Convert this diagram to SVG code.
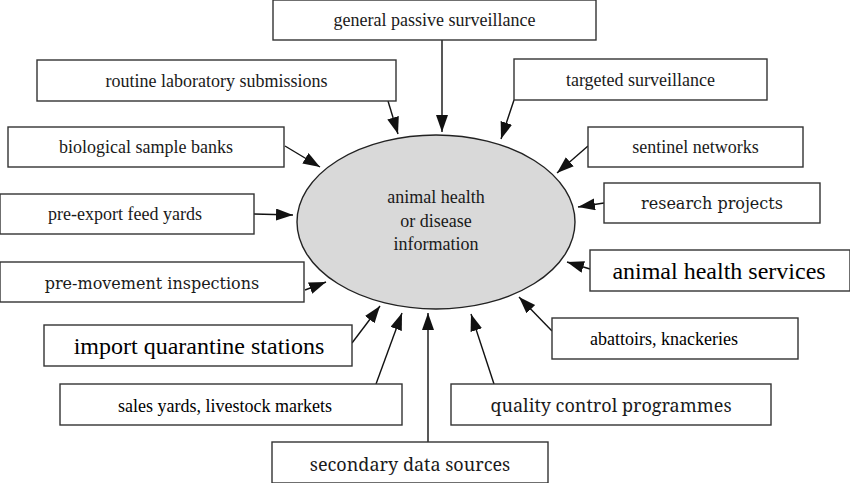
<svg xmlns="http://www.w3.org/2000/svg" width="850" height="483" viewBox="0 0 850 483">
<style>
.box{fill:#fff;stroke:#333;stroke-width:1.4}
.edge{stroke:#111;stroke-width:1.4;fill:none}
</style>
<defs>
<marker id="ah" markerUnits="userSpaceOnUse" markerWidth="18" markerHeight="13" refX="17" refY="6" orient="auto">
<path d="M0,0 L17,6 L0,12 z" fill="#111"/>
</marker>
</defs>
<rect width="850" height="483" fill="#fff"/>
<g id="connectors">
<line class="edge" x1="442" y1="40" x2="442" y2="132" marker-end="url(#ah)"/>
<line class="edge" x1="388" y1="101" x2="398" y2="134" marker-end="url(#ah)"/>
<line class="edge" x1="514" y1="100" x2="501" y2="139" marker-end="url(#ah)"/>
<line class="edge" x1="285" y1="146" x2="320" y2="167" marker-end="url(#ah)"/>
<line class="edge" x1="588" y1="146" x2="557" y2="173" marker-end="url(#ah)"/>
<line class="edge" x1="254" y1="214" x2="293" y2="215" marker-end="url(#ah)"/>
<line class="edge" x1="604" y1="203" x2="578" y2="207" marker-end="url(#ah)"/>
<line class="edge" x1="305" y1="290" x2="326" y2="282" marker-end="url(#ah)"/>
<line class="edge" x1="590" y1="269" x2="567" y2="262" marker-end="url(#ah)"/>
<line class="edge" x1="352" y1="343" x2="380" y2="306" marker-end="url(#ah)"/>
<line class="edge" x1="552" y1="331" x2="519" y2="297" marker-end="url(#ah)"/>
<line class="edge" x1="376" y1="384" x2="402" y2="313" marker-end="url(#ah)"/>
<line class="edge" x1="494" y1="384" x2="471" y2="314" marker-end="url(#ah)"/>
<line class="edge" x1="428" y1="442" x2="428" y2="313" marker-end="url(#ah)"/>
</g>
<g id="center">
<ellipse cx="436" cy="222" rx="139" ry="87" fill="#d9d9d9" stroke="#222" stroke-width="1.4"/>
<text x="436" y="203" text-anchor="middle" font-size="18px" fill="#1a1a1a" font-family="Liberation Serif">animal health</text>
<text x="436" y="227" text-anchor="middle" font-size="18px" fill="#1a1a1a" font-family="Liberation Serif">or disease</text>
<text x="436" y="250" text-anchor="middle" font-size="18px" fill="#1a1a1a" font-family="Liberation Serif">information</text>
</g>
<g id="n1"><rect class="box" x="273" y="0" width="323" height="40"/><text x="434.5" y="26" text-anchor="middle" font-size="18px" fill="#1a1a1a" font-family="Liberation Serif">general passive surveillance</text></g>
<g id="n2"><rect class="box" x="37" y="60" width="359" height="41"/><text x="216.5" y="87" text-anchor="middle" font-size="18px" fill="#1a1a1a" font-family="Liberation Serif">routine laboratory submissions</text></g>
<g id="n3"><rect class="box" x="514" y="59" width="253" height="41"/><text x="640.5" y="86" text-anchor="middle" font-size="18" fill="#1a1a1a" font-family="Times New Roman">targeted surveillance</text></g>
<g id="n4"><rect class="box" x="8" y="127" width="276" height="40"/><text x="146" y="153" text-anchor="middle" font-size="18" fill="#1a1a1a" font-family="Times New Roman">biological sample banks</text></g>
<g id="n5"><rect class="box" x="588" y="127" width="215" height="40"/><text x="695.5" y="153" text-anchor="middle" font-size="18" fill="#1a1a1a" font-family="serif">sentinel networks</text></g>
<g id="n6"><rect class="box" x="0" y="194" width="254" height="40"/><text x="125" y="220" text-anchor="middle" font-size="18" fill="#1a1a1a" font-family="serif">pre-export feed yards</text></g>
<g id="n7"><rect class="box" x="604" y="183" width="216" height="40"/><text x="712" y="209" text-anchor="middle" font-size="16" fill="#1a1a1a" font-family="DejaVu Serif">research projects</text></g>
<g id="n8"><rect class="box" x="0" y="262" width="304" height="40"/><text x="152" y="289" text-anchor="middle" font-size="16" fill="#1a1a1a" font-family="DejaVu Serif">pre-movement inspections</text></g>
<g id="n9"><rect class="box" x="590" y="250" width="260" height="41"/><text x="719" y="279" text-anchor="middle" font-size="24" font-family="Liberation Serif">animal health services</text></g>
<g id="n10"><rect class="box" x="44" y="325" width="308" height="41"/><text x="199" y="354" text-anchor="middle" font-size="24" font-family="Liberation Serif">import quarantine stations</text></g>
<g id="n11"><rect class="box" x="552" y="318" width="246" height="41"/><text x="590" y="345" font-size="18" font-family="Liberation Serif">abattoirs, knackeries</text></g>
<g id="n12"><rect class="box" x="60" y="384" width="342" height="41"/><text x="118" y="412" font-size="18" font-family="Liberation Serif">sales yards, livestock markets</text></g>
<g id="n13"><rect class="box" x="451" y="384" width="320" height="41"/><text x="611" y="412" text-anchor="middle" font-size="18" fill="#1a1a1a" font-family="Noto Serif">quality control programmes</text></g>
<g id="n14"><rect class="box" x="272" y="442" width="276" height="41"/><text x="410" y="471" text-anchor="middle" font-size="18" fill="#1a1a1a" font-family="Noto Serif">secondary data sources</text></g>
</svg>
